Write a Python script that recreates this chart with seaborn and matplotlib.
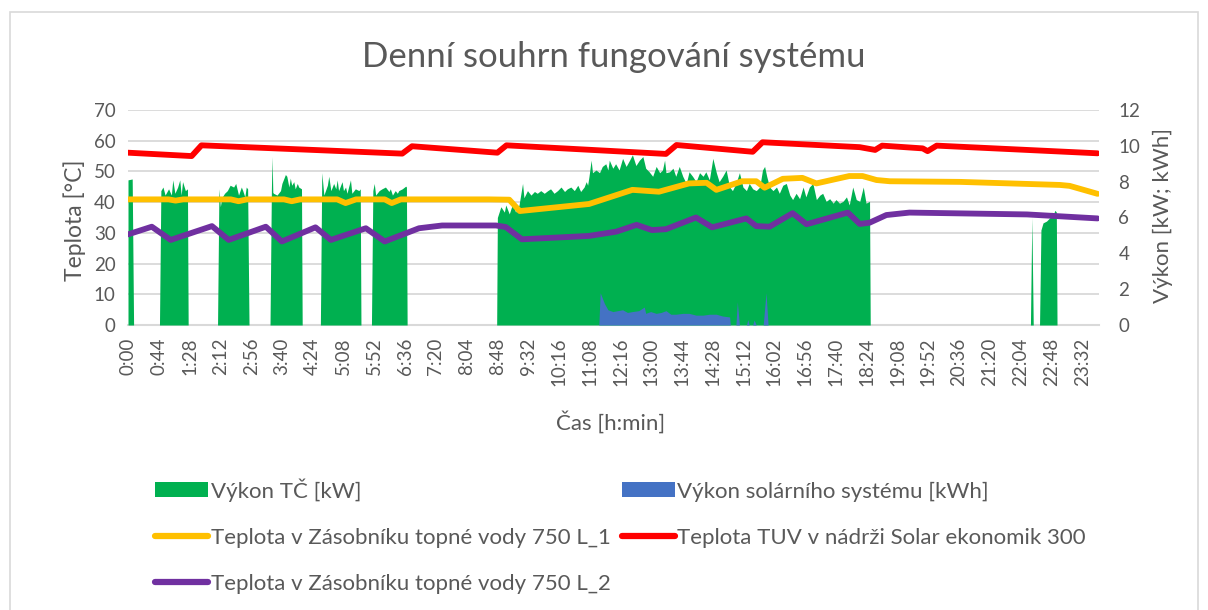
import matplotlib
matplotlib.use("Agg")
import matplotlib.pyplot as plt
import seaborn as sns
from matplotlib.patches import Patch, Rectangle
from matplotlib.lines import Line2D

# ---------------- data ----------------
title = "Denní souhrn fungování systému"
x_title = "Čas [h:min]"
y_left_title = "Teplota [°C]"
y_right_title = "Výkon [kW; kWh]"

time_labels = ["0:00", "0:44", "1:28", "2:12", "2:56", "3:40", "4:24", "5:08",
               "5:52", "6:36", "7:20", "8:04", "8:48", "9:32", "10:16", "11:08",
               "12:16", "13:00", "13:44", "14:28", "15:12", "16:02", "16:56",
               "17:40", "18:24", "19:08", "19:52", "20:36", "21:20", "22:04",
               "22:48", "23:32"]
n_samples = 1389      # number of records (category positions)
label_every = 44      # one time label every 44 records

series_names = ["Výkon TČ [kW]", "Výkon solárního systému [kWh]",
                "Teplota v Zásobníku topné vody 750 L_1",
                "Teplota TUV v nádrži Solar ekonomik 300",
                "Teplota v Zásobníku topné vody 750 L_2"]

# heat pump power [kW] (record index, value)
hp_idx = [0, 6, 8,
          45, 47, 50, 53, 58, 62, 64, 67, 71, 74, 76, 78, 82, 85, 86,
          128, 130, 132, 134, 138, 142, 146, 151, 154, 158, 162, 164, 167, 169, 171, 173,
          203, 205, 206, 207, 208, 213, 218, 220, 225, 227, 230, 232, 234, 237, 239, 242, 244, 248, 249,
          275, 277, 280, 285, 287, 290, 294, 297, 299, 301, 306, 308, 311, 313, 318, 320, 325, 330, 332, 333,
          348, 350, 352, 354, 359, 363, 368, 373, 375, 378, 382, 385, 387, 392, 397, 398, 399,
          527, 528, 533, 538, 540, 545, 550, 554, 559, 564, 566, 571, 576, 581, 585, 590, 595,
          600, 604, 609, 614, 619, 624, 628, 633, 638, 643, 647, 652, 655, 657, 659, 662, 664,
          669, 674, 678, 683, 686, 688, 693, 697, 702, 707, 712, 717, 721, 726, 731, 736, 740,
          745, 750, 755, 760, 764, 767, 769, 774, 779, 783, 788, 793, 798, 802, 807, 812, 817,
          822, 826, 831, 836, 841, 845, 850, 855, 860, 864, 869, 874, 879, 884, 888, 893, 898,
          903, 907, 910, 913, 917, 922, 927, 931, 936, 941, 946, 950, 955, 960, 965, 969, 974,
          979, 984, 989, 993, 998, 1003, 1008, 1012, 1017, 1022, 1027, 1031, 1036, 1041, 1046,
          1051, 1055, 1060, 1061,
          1290, 1292, 1294,
          1303, 1305, 1308, 1313, 1318, 1320, 1323, 1325, 1327, 1328, 1388]
hp_kw = [8.1, 8.15, 0,
         0, 7.5, 7.7, 7.25, 7.6, 7.25, 8.1, 7.35, 7.7, 8.1, 7.25, 8.0, 7.5, 7.6, 0,
         0, 7.6, 6.6, 7.1, 7.35, 7.5, 7.8, 7.7, 7.9, 7.25, 7.7, 7.5, 7.15, 7.7, 7.6, 0,
         0, 7.6, 9.4, 7.4, 7.35, 7.25, 7.5, 7.9, 8.4, 8.3, 7.7, 8.2, 7.8, 8.0, 7.6, 7.9, 7.7, 7.6, 0,
         0, 8.5, 7.25, 7.8, 8.3, 7.5, 7.9, 7.6, 8.1, 7.5, 8.0, 7.5, 7.7, 7.35, 8.1, 7.35, 7.6, 7.5, 7.6, 0,
         0, 7.5, 7.9, 7.25, 7.5, 7.6, 7.7, 7.45, 7.6, 7.25, 7.5, 7.35, 7.5, 7.6, 7.75, 7.7, 0,
         0, 6.0, 6.6, 6.3, 6.7, 6.2, 6.8, 6.3, 6.7, 7.9, 7.1, 7.5, 7.25, 7.45, 7.35, 7.5, 7.35,
         7.5, 7.6, 7.35, 7.5, 7.7, 7.45, 7.6, 7.7, 7.5, 7.8, 7.45, 7.7, 8.0, 7.8, 8.3, 9.2, 8.5,
         8.65, 8.5, 8.85, 9.0, 8.65, 9.2, 8.75, 9.0, 8.65, 9.3, 8.85, 9.2, 9.5, 8.9, 9.2, 9.4, 8.75,
         8.55, 8.3, 8.85, 8.5, 8.65, 9.2, 8.5, 8.55, 8.75, 8.3, 8.85, 8.3, 7.9, 8.55, 8.3, 8.0, 8.5,
         8.3, 8.55, 8.1, 9.3, 8.5, 8.0, 8.3, 8.65, 7.7, 7.5, 7.9, 8.5, 7.7, 7.5, 7.9, 7.6, 7.5,
         7.7, 8.65, 8.85, 8.3, 7.7, 7.5, 7.7, 7.35, 7.8, 7.9, 7.25, 7.0, 7.35, 7.05, 7.7, 7.15, 7.7,
         7.9, 7.0, 7.25, 7.35, 6.9, 7.05, 6.8, 7.0, 6.8, 6.9, 7.15, 6.7, 7.7, 7.0, 6.9,
         7.7, 6.8, 6.9, 0,
         0, 6.0, 0,
         0, 5.3, 5.7, 5.8, 6.0, 6.3, 6.2, 6.4, 6.3, 0, 0]

# solar system power [kWh]
solar_idx = [673, 675, 681, 686, 693, 700, 707, 714, 721, 730, 738, 740, 747, 755, 762,
             769, 776, 783, 793, 802, 812, 822, 831, 841, 850, 860, 861,
             869, 871, 874, 884, 886, 888, 893, 895, 898, 908, 912, 915]
solar_kw = [0, 1.8, 1.2, 0.85, 0.75, 0.8, 0.85, 0.7, 0.75, 0.8, 1.0, 0.65, 0.75, 0.65, 0.7,
            0.8, 0.6, 0.6, 0.65, 0.65, 0.55, 0.55, 0.6, 0.6, 0.5, 0.45, 0,
            0, 1.3, 0, 0, 0.3, 0, 0, 0.28, 0, 0, 1.8, 0]

# DHW tank temperature (Solar ekonomik 300) [°C]
tuv_idx = [0, 91, 105, 392, 406, 528, 541, 769, 784, 893, 907, 1046, 1068, 1078,
           1136, 1143, 1156, 1386]
tuv_temp = [56.1, 55.0, 58.5, 55.8, 58.2, 56.1, 58.5, 55.7, 58.6, 56.4, 59.5, 57.9, 57.0, 58.4,
            57.5, 56.6, 58.4, 55.9]

# heating water storage 750 L_1 [°C]
l1_idx = [0, 58, 68, 79, 147, 158, 170, 223, 234, 246, 299, 311, 326, 367, 377, 390,
          516, 545, 560, 659, 721, 759, 802, 827, 841, 878, 898, 910, 936, 964, 984,
          1031, 1050, 1070, 1089, 1189, 1332, 1346, 1386]
l1_temp = [40.9, 40.9, 40.5, 40.9, 40.9, 40.3, 40.9, 40.9, 40.3, 40.9, 40.9, 39.7, 40.9,
           40.9, 39.7, 40.9, 40.9, 40.8, 37.1, 39.4, 44.0, 43.4, 46.1, 46.3, 44.0, 46.8,
           46.8, 44.7, 47.6, 47.9, 46.1, 48.5, 48.5, 47.2, 46.8, 46.6, 45.6, 45.3, 42.7]

# heating water storage 750 L_2 [°C]
l2_idx = [0, 34, 61, 120, 144, 197, 220, 268, 290, 340, 367, 416, 449, 526, 540, 563,
          659, 698, 727, 749, 769, 812, 835, 884, 898, 917, 950, 970, 1029, 1046, 1060,
          1084, 1117, 1285, 1386]
l2_temp = [29.5, 32.0, 27.7, 32.2, 27.7, 32.0, 27.2, 31.8, 27.7, 31.5, 27.2, 31.5, 32.4,
           32.4, 31.9, 27.9, 29.0, 30.4, 32.6, 30.9, 31.2, 35.0, 31.8, 34.7, 32.2, 32.0,
           36.4, 32.8, 36.6, 32.9, 33.3, 35.8, 36.6, 36.0, 34.7]

# ---------------- style ----------------
c_green = "#00B050"
c_blue = "#4472C4"
c_yellow = "#FFC000"
c_red = "#FF0000"
c_purple = "#7030A0"
c_text = "#595959"
c_grid = "#D9D9D9"

sns.set_theme(style="white")
plt.rcParams["font.family"] = ["Lato", "DejaVu Sans"]

W, H = 1208, 610
fig = plt.figure(figsize=(W / 100, H / 100), dpi=100)
fig.patch.set_facecolor("white")

pl, pr, pt, pb = 128, 1099, 110, 325
ax = fig.add_axes([pl / W, 1 - pb / H, (pr - pl) / W, (pb - pt) / H])
axp = ax.twinx()
axl = ax.twinx()

xmax = n_samples - 1

# base axis: grid + left ticks + category labels
ax.set_xlim(0, xmax)
ax.set_ylim(0, 70)
ax.set_yticks(range(0, 71, 10))
ax.yaxis.grid(True, color=c_grid, lw=1.3)
ax.xaxis.grid(False)
for s in ["left", "right", "top"]:
    ax.spines[s].set_visible(False)
ax.spines["bottom"].set_color(c_grid)
ax.spines["bottom"].set_linewidth(1.5)
ax.set_xticks(list(range(0, n_samples, label_every))[:len(time_labels)])
ax.set_xticklabels(time_labels, rotation=90)
ax.tick_params(axis="x", length=0, pad=9, labelsize=13.5, labelcolor=c_text)
ax.tick_params(axis="y", length=0, pad=9, labelsize=13.5, labelcolor=c_text)

# power axis: areas + right ticks
axp.fill_between(hp_idx, hp_kw, 0, color=c_green, linewidth=0)
axp.fill_between(solar_idx, solar_kw, 0, color=c_blue, linewidth=0)
axp.set_ylim(0, 12)
axp.set_xlim(0, xmax)
axp.set_yticks(range(0, 13, 2))
axp.tick_params(axis="y", length=0, pad=14, labelsize=13.5, labelcolor=c_text)
for s in axp.spines.values():
    s.set_visible(False)
axp.grid(False)

# temperature lines on top
sns.lineplot(x=l1_idx, y=l1_temp, ax=axl, color=c_yellow, linewidth=4.2, legend=False)
sns.lineplot(x=tuv_idx, y=tuv_temp, ax=axl, color=c_red, linewidth=4.2, legend=False)
sns.lineplot(x=l2_idx, y=l2_temp, ax=axl, color=c_purple, linewidth=4.2, legend=False)
axl.set_ylim(0, 70)
axl.set_xlim(0, xmax)
axl.yaxis.set_visible(False)
axl.grid(False)
for s in axl.spines.values():
    s.set_visible(False)
for a in (ax, axp, axl):
    a.set_xlabel("")
    a.set_ylabel("")

# texts
fig.text(614 / W, 1 - 57 / H, title, ha="center", va="center", fontsize=25,
         color=c_text, fontweight="normal")
fig.text(75 / W, 1 - 220 / H, y_left_title, ha="center", va="center", rotation=90,
         fontsize=16.5, color=c_text)
fig.text(1163 / W, 1 - 215 / H, y_right_title, ha="center", va="center", rotation=90,
         fontsize=16, color=c_text)
fig.text(611 / W, 1 - 422 / H, x_title, ha="center", va="center", fontsize=16,
         color=c_text)

# legend
handles = [Patch(facecolor=c_green, edgecolor="none"),
           Line2D([], [], color=c_yellow, lw=4.5),
           Line2D([], [], color=c_purple, lw=4.5),
           Patch(facecolor=c_blue, edgecolor="none"),
           Line2D([], [], color=c_red, lw=4.5)]
labels = [series_names[0], series_names[2], series_names[4], series_names[1], series_names[3]]
leg = fig.legend(handles, labels, ncol=2, loc="upper left",
                 bbox_to_anchor=(155 / W, 1 - 478 / H), frameon=False,
                 fontsize=16, handlelength=2.4, handleheight=0.65,
                 handletextpad=0.1, columnspacing=0.5, labelspacing=1.18,
                 borderpad=0, borderaxespad=0)
for t in leg.get_texts():
    t.set_color(c_text)

# outer chart border
fig.patches.append(Rectangle((10 / W, -0.02), 1188 / W, 1 - 12 / H + 0.02,
                             transform=fig.transFigure, fill=False,
                             edgecolor=c_grid, linewidth=1.2))

fig.savefig("out.png", dpi=100)
